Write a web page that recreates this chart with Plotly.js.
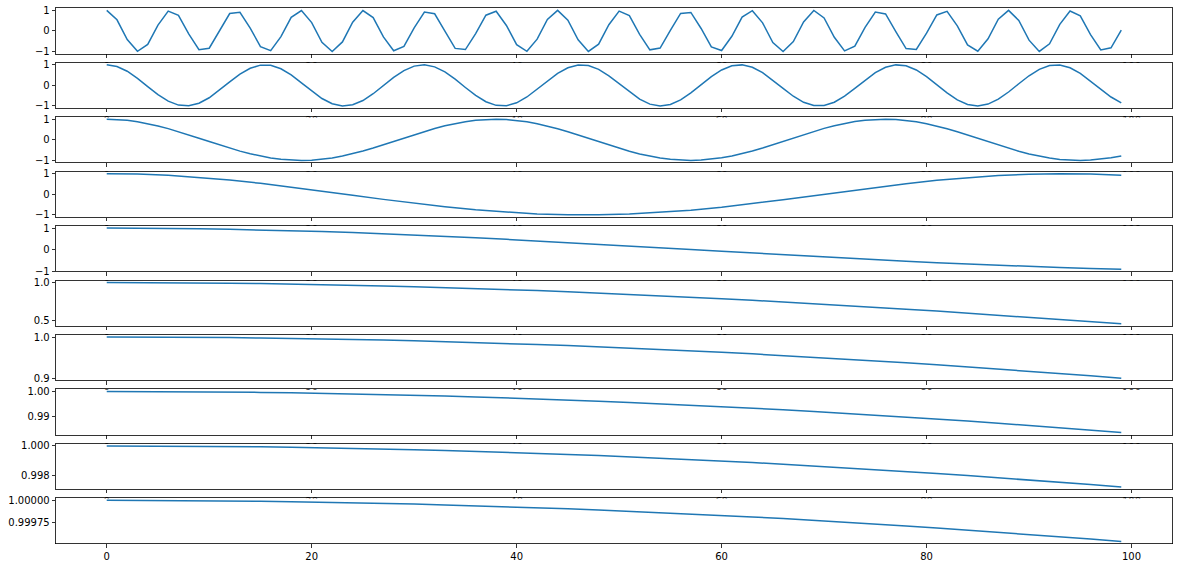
<!DOCTYPE html>
<html><head><meta charset="utf-8">
<script src="https://cdn.plot.ly/plotly-3.0.1.min.js"></script>
<style>html,body{margin:0;padding:0;background:#fff}#chart{width:1178px;height:568px}</style>
</head><body><div id="chart"></div><script>
const xIndex = [0,1,2,3,4,5,6,7,8,9,10,11,12,13,14,15,16,17,18,19,20,21,22,23,24,25,26,27,28,29,30,31,32,33,34,35,36,37,38,39,40,41,42,43,44,45,46,47,48,49,50,51,52,53,54,55,56,57,58,59,60,61,62,63,64,65,66,67,68,69,70,71,72,73,74,75,76,77,78,79,80,81,82,83,84,85,86,87,88,89,90,91,92,93,94,95,96,97,98,99];
const xCoarse = [0,3,6,9,12,15,18,21,24,27,30,33,36,39,42,45,48,51,54,57,60,63,66,69,72,75,78,81,84,87,90,93,96,99];

const row1 = [1,0.5403,-0.4161,-0.99,-0.6536,0.2837,0.9602,0.7539,-0.1455,-0.9111,
-0.8391,0.0044,0.8439,0.9074,0.1367,-0.7597,-0.9577,-0.2752,0.6603,0.9887,
0.4081,-0.5477,-1.0,-0.5328,0.4242,0.9912,0.6469,-0.2921,-0.9626,-0.7481,
0.1543,0.9147,0.8342,-0.0133,-0.8486,-0.9037,-0.128,0.7654,0.9551,0.2666,
-0.6669,-0.9873,-0.3999,0.5551,0.9998,0.5253,-0.4322,-0.9923,-0.6401,0.3006,
0.965,0.7422,-0.163,-0.9183,-0.8293,0.0221,0.8532,0.8999,0.1192,-0.7711,
-0.9524,-0.2581,0.6735,0.9859,0.3919,-0.5625,-0.9994,-0.5178,0.4401,0.9934,
0.6333,-0.309,-0.9672,-0.7362,0.1717,0.9218,0.8244,-0.031,-0.8578,-0.896,
-0.1104,0.7767,0.9496,0.2495,-0.68,-0.9844,-0.3837,0.5698,0.999,0.5102,
-0.4481,-0.9945,-0.6265,0.3174,0.9693,0.7302,-0.1804,-0.9251,-0.8193,0.0398];

const row2 = [1,0.9184,0.6868,0.3424,-0.0565,-0.447,-0.7646,-0.9571,-0.9936,-0.868,
-0.6004,-0.235,0.1688,0.5446,0.8323,0.9837,0.9745,0.8063,0.506,0.1237,
-0.279,-0.6362,-0.8896,-0.9977,-0.943,-0.7343,-0.4057,-0.0111,0.3868,0.7192,
0.9354,0.999,0.8995,0.6531,0.2995,-0.1018,-0.4872,-0.793,-0.9693,-0.9874,
-0.8444,-0.5634,-0.1909,0.2135,0.5823,0.8567,0.9909,0.9633,0.7786,0.4665,
0.0785,-0.3223,-0.6707,-0.9094,-0.9998,-0.9269,-0.7027,-0.365,0.0344,0.4269,
0.7501,0.9505,0.9959,0.8786,0.618,0.2564,-0.1467,-0.5266,-0.8199,-0.9795,
-0.9792,-0.819,-0.5252,-0.1455,0.2577,0.6192,0.8793,0.996,0.9501,0.7491,
0.4257,0.0331,-0.3652,-0.7037,-0.9274,-0.9997,-0.9088,-0.6695,-0.3212,0.0799,
0.4678,0.7795,0.9637,0.9907,0.856,0.5816,0.2121,-0.1919,-0.5646,-0.8452];

const row3 = [1,0.9863,0.9457,0.8793,0.7888,0.6767,0.5456,0.4006,0.2443,0.0811,
-0.0842,-0.2472,-0.4034,-0.5487,-0.679,-0.7906,-0.8807,-0.9467,-0.9868,-1.0,
-0.9858,-0.9447,-0.8778,-0.7869,-0.6746,-0.5432,-0.3982,-0.2412,-0.078,0.0873,
0.2502,0.4066,0.5513,0.6813,0.7926,0.8822,0.9477,0.9873,1.0,0.9853,
0.9437,0.8763,0.7849,0.6721,0.541,0.3953,0.2382,0.0749,-0.0904,-0.2532,
-0.4091,-0.553,-0.6835,-0.7943,-0.8837,-0.9487,-0.9878,-1.0,-0.9848,-0.9427,
-0.8748,-0.7829,-0.6699,-0.538,-0.3925,-0.2351,-0.0718,0.0935,0.2562,0.4117,
0.5562,0.6858,0.7962,0.8851,0.9497,0.9883,0.9999,0.9842,0.9416,0.8733,
0.7811,0.6675,0.5355,0.3896,0.2322,0.0687,-0.0966,-0.2592,-0.4148,-0.5582,
-0.6879,-0.7982,-0.8866,-0.9506,-0.9888,-0.9999,-0.9837,-0.9405,-0.8718,-0.7799];
const row4 = [1,0.9797,0.9195,0.8219,0.6909,0.5318,0.3511,0.1561,-0.0454,-0.2449,-0.4344,-0.6063,-0.7535,-0.8701,-0.9513,-0.9938,-0.9959,-0.9575,-0.8801,-0.7668,-0.6225,-0.453,-0.2651,-0.0659,0.1358,0.3322,0.5145,0.6758,0.81,0.9112,0.9753,0.9998,0.9836,0.9274];
const row5 = [1,0.9966,0.9865,0.9698,0.9464,0.9167,0.8808,0.839,0.7915,0.7386,0.6808,0.6185,0.5518,0.4814,0.4077,0.3317,0.253,0.1726,0.0912,0.0092,-0.0729,-0.1546,-0.2352,-0.3142,-0.3911,-0.4654,-0.5364,-0.6038,-0.6675,-0.7262,-0.7802,-0.8289,-0.872,-0.9093];
const row6 = [1,0.99944,0.99776,0.99497,0.99106,0.98605,0.97993,0.97272,0.96442,0.95504,0.94459,0.93309,0.92053,0.90695,0.89237,0.87678,0.8602,0.84268,0.82419,0.8048,0.78449,0.76335,0.74132,0.71848,0.69481,0.67041,0.64525,0.61933,0.59273,0.56549,0.53756,0.50906,0.47995,0.45023];
const row7 = [1,0.99991,0.99963,0.99917,0.99852,0.99769,0.99667,0.99547,0.99408,0.99251,0.99076,0.98882,0.9867,0.9844,0.98191,0.97925,0.9764,0.97337,0.97016,0.96678,0.96321,0.95946,0.95554,0.95144,0.94716,0.94271,0.93809,0.93329,0.92831,0.92317,0.91785,0.91237,0.90671,0.90089];
const row8 = [1,0.999985,0.999939,0.999862,0.999755,0.999617,0.999449,0.999249,0.99902,0.998759,0.998469,0.998147,0.997795,0.997413,0.996999,0.996557,0.996081,0.995576,0.995041,0.994475,0.993879,0.993252,0.992595,0.991908,0.99119,0.990441,0.989663,0.988854,0.988015,0.987145,0.986246,0.985315,0.984355,0.983365];
const row9 = [1,0.9999975,0.9999899,0.9999772,0.9999594,0.9999366,0.9999087,0.9998758,0.9998377,0.9997946,0.9997464,0.9996932,0.9996349,0.9995715,0.999503,0.9994295,0.9993509,0.9992672,0.9991786,0.9990848,0.998986,0.998882,0.9987731,0.998659,0.9985399,0.9984157,0.9982864,0.9981521,0.9980128,0.9978683,0.9977188,0.9975643,0.9974047,0.9972414];
const row10 = [1,0.99999958,0.99999832,0.99999622,0.99999329,0.99998951,0.99998489,0.99997944,0.99997314,0.99996601,0.99995803,0.99994922,0.99993957,0.99992908,0.99991775,0.99990558,0.99989257,0.99987872,0.99986403,0.9998485,0.99983214,0.99981493,0.99979688,0.999778,0.99975828,0.99973771,0.99971631,0.99969407,0.99967099,0.99964707,0.99962231,0.99959671,0.99957027,0.99954299];

const xTickVals = [0,20,40,60,80,100];
const xTickText = ['0','20','40','60','80','100'];
const yTickVals = [[-1,0,1],[-1,0,1],[-1,0,1],[-1,0,1],[-1,0,1],[0.5,1.0],[0.9,1.0],[0.99,1.00],[0.998,1.000],[0.99975,1.00000]];
const yTickText = [['\u22121','0','1'],['\u22121','0','1'],['\u22121','0','1'],['\u22121','0','1'],['\u22121','0','1'],['0.5','1.0'],['0.9','1.0'],['0.99','1.00'],['0.998','1.000'],['0.99975','1.00000']];

const series = [
  [xIndex,row1],[xIndex,row2],[xIndex,row3],[xCoarse,row4],[xCoarse,row5],
  [xCoarse,row6],[xCoarse,row7],[xCoarse,row8],[xCoarse,row9],[xCoarse,row10]
];

const W = 1178, H = 568;
const xRange = [-4.95, 103.95];
const traces = [];
const layout = {
  width: W, height: H, margin: {l:0,r:0,t:0,b:0},
  paper_bgcolor: '#fff', plot_bgcolor: '#fff', showlegend: false,
  font: {family: 'DejaVu Sans', size: 10, color: '#000'},
  shapes: []
};
const axStyle = {
  showline: true, mirror: true, linecolor: '#000', linewidth: 0.8,
  ticks: 'outside', ticklen: 3.5, tickwidth: 0.8, tickcolor: '#000',
  showgrid: false, zeroline: false, fixedrange: true,
  tickfont: {family: 'DejaVu Sans', size: 10, color: '#000'}
};

series.forEach((s, k) => {
  const suf = k === 0 ? '' : String(k + 1);
  const ys = s[1];
  const lo = Math.min(...ys), hi = Math.max(...ys);
  const pad = 0.05 * (hi - lo);
  const yRange = [lo - pad, hi + pad];
  const topPx = 8.3 + 54.44 * k;
  const botPx = topPx + 45.3;
  traces.push({
    type: 'scatter', mode: 'lines', x: s[0], y: ys,
    xaxis: 'x' + suf, yaxis: 'y' + suf,
    line: {color: '#1f77b4', width: 1.5}, hoverinfo: 'skip'
  });
  layout['xaxis' + suf] = Object.assign({}, axStyle, {
    domain: [56 / W, 1172 / W], range: xRange, anchor: 'y' + suf,
    tickmode: 'array', tickvals: xTickVals, ticktext: xTickText
  });
  layout['yaxis' + suf] = Object.assign({}, axStyle, {
    domain: [1 - botPx / H, 1 - topPx / H], range: yRange, anchor: 'x' + suf,
    tickmode: 'array', tickvals: yTickVals[k], ticktext: yTickText[k]
  });
  if (k > 0) {
    layout.shapes.push({
      type: 'rect', xref: 'x' + suf, yref: 'y' + suf, layer: 'below',
      x0: xRange[0], x1: xRange[1], y0: yRange[0], y1: yRange[1],
      fillcolor: '#fff', line: {width: 0}
    });
  }
});

Plotly.newPlot('chart', traces, layout, {displayModeBar: false, staticPlot: true});
</script></body></html>
